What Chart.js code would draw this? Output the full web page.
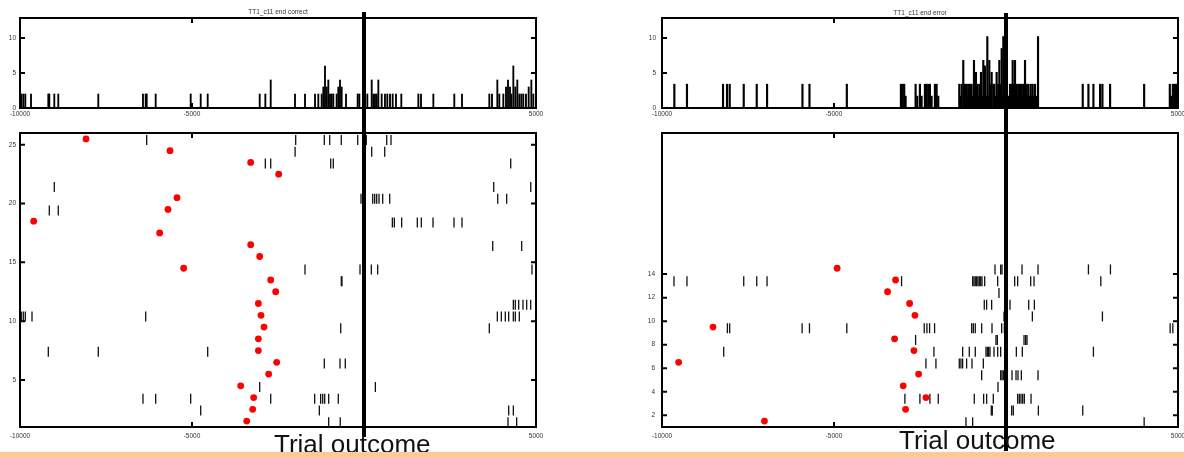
<!DOCTYPE html>
<html>
<head>
<meta charset="utf-8">
<script src="https://cdn.jsdelivr.net/npm/chart.js@4.4.1/dist/chart.umd.min.js"></script>
<style>
    html, body { margin: 0; padding: 0; background: #fff; overflow: hidden; }
    body { width: 1184px; height: 457px; position: relative; }
    canvas { position: absolute; }
    .outcome {
        position: absolute;
        font-family: "Liberation Sans", Arial, sans-serif;
        font-size: 26px;
        line-height: 26px;
        color: #111;
        white-space: nowrap;
    }
    #band { position: absolute; left: 0; top: 452px; width: 1184px; height: 5px; background: #fdca96; }
</style>
</head>
<body>
<canvas id="histCorrect" style="left:0;top:0" width="560" height="125"></canvas>
<canvas id="rasterCorrect" style="left:0;top:125px" width="560" height="332"></canvas>
<canvas id="histError" style="left:600px;top:0" width="600" height="125"></canvas>
<canvas id="rasterError" style="left:600px;top:125px" width="600" height="332"></canvas>
<div class="outcome" style="left:274px;top:431px">Trial outcome</div>
<div class="outcome" style="left:899px;top:427px">Trial outcome</div>
<div id="band"></div>
<script>
// axis ticks
const timeTicks = [-10000, -5000, 5000]
const rateTicks = [0, 5, 10]
const correctTrialTicks = [5, 10, 15, 20, 25]
const errorTrialTicks = [2, 4, 6, 8, 10, 12, 14]

// PSTH bars [time ms, rate]
const correctHist = [
    [-9962, 2], [-9904, 2], [-9846, 2], [-9680, 2], [-9177, 2], [-9148, 2], [-9003, 2], [-8887, 2],
    [-7724, 2], [-6425, 2], [-6346, 2], [-6317, 2], [-6056, 2], [-5038, 2], [-4747, 2], [-4544, 2],
    [-3032, 2], [-2868, 2], [-2712, 4], [-2006, 2], [-1715, 2], [-1424, 2], [-1328, 2], [-1230, 2],
    [-1182, 3], [-1134, 6], [-1085, 3], [-1037, 4], [-988, 2], [-940, 2], [-892, 2], [-795, 2],
    [-747, 3], [-698, 4], [-649, 3], [-523, 2], [-184, 2], [-136, 2], [29, 2], [97, 2], [224, 4],
    [272, 2], [320, 2], [369, 2], [417, 4], [514, 2], [610, 2], [678, 2], [756, 2], [834, 2], [930, 2],
    [1085, 2], [1580, 2], [1657, 2], [2016, 2], [2625, 2], [2849, 2], [3643, 2], [3721, 2], [3876, 4],
    [3934, 2], [4050, 2], [4128, 3], [4186, 4], [4244, 3], [4283, 2], [4341, 6], [4399, 3], [4457, 4],
    [4515, 2], [4573, 2], [4631, 2], [4709, 2], [4787, 3], [4864, 4], [4922, 2],
]
const errorHist = [
    [-9641, 3.4], [-9274, 3.4], [-8226, 3.4], [-8110, 3.4], [-8032, 3.4], [-7624, 3.4], [-7246, 3.4],
    [-6946, 3.4], [-5917, 3.4], [-5713, 3.4], [-4627, 3.4],
    [-3055, 3.4], [-3007, 3.4], [-2959, 3.4], [-2919, 1.7], [-2628, 3.4], [-2580, 1.7], [-2503, 3.4],
    [-2454, 1.7], [-2357, 3.4], [-2309, 3.4], [-2260, 3.4], [-2212, 3.4], [-2163, 1.7], [-2066, 3.4],
    [-2017, 3.4], [-1969, 1.7],
    [-1358, 3.4], [-1320, 1.7], [-1290, 3.4], [-1242, 6.8], [-1218, 1.7], [-1193, 3.4], [-1170, 1.7],
    [-1145, 3.4], [-1120, 1.7], [-1096, 3.4], [-1072, 1.7], [-1048, 3.4], [-1024, 1.7], [-999, 3.4],
    [-965, 1.7], [-931, 6.8], [-902, 1.7], [-873, 5.1], [-853, 1.7], [-834, 3.4], [-805, 1.7],
    [-776, 3.4], [-752, 1.7], [-728, 5.1], [-694, 1.7], [-660, 6.8], [-636, 1.7], [-611, 6],
    [-577, 1.7], [-543, 10.2], [-514, 1.7], [-485, 6.8], [-446, 3.4], [-417, 5.1], [-369, 3.4],
    [-339, 3.4], [-310, 1.7], [-272, 5.1], [-250, 1.7], [-223, 3.4], [-194, 6.8], [-155, 3.4],
    [-126, 8.5], [-100, 1.7], [-78, 10.2], [-39, 3.4], [-20, 1.7], [0, 3.4], [40, 1.7], [80, 1.7],
    [116, 3.4], [140, 1.7], [165, 3.4], [194, 6.8], [214, 1.7], [233, 3.4], [262, 6.8], [286, 1.7],
    [310, 3.4], [335, 1.7], [359, 3.4], [383, 1.7], [407, 3.4], [430, 1.7], [456, 3.4], [480, 1.7],
    [504, 3.4], [528, 1.7], [553, 6.8], [577, 1.7], [601, 3.4], [625, 1.7], [650, 3.4], [684, 1.7],
    [718, 3.4], [747, 1.7], [776, 3.4], [810, 1.7], [844, 3.4], [880, 1.7], [931, 10.2],
    [2231, 3.4], [2396, 3.4], [2541, 3.4], [2735, 3.4], [2803, 3.4], [3026, 3.4], [4016, 3.4],
    [4762, 3.4], [4800, 1.7], [4850, 3.4], [4900, 3.4], [4945, 3.4], [4985, 3.4],
]

// red markers, one per trial starting at trial 1 (null = not shown)
const correctMarkers = [
    -3410, -3236, -3207, -3584, -2771, -2538, -3071, -3071, -2907, -2994,
    -3071, -2567, -2712, -5242, -3032, -3294, -5940, -9602, -5698, -5436,
    null, -2480, -3294, -5640, -8081,
]
const errorMarkers = [
    -7022, -2919, -2328, -2988, -2540, -9516, -2677, -3239, -8518, -2648,
    -2802, -3443, -3210, -4909,
]

// raster spikes [trial, times]
const correctSpikes = [
    [1, [-1027, -690, 4186, 4438]],
    [2, [-4747, -1298, 4206, 4341]],
    [3, [-6425, -6056, -5038, -2712, -1434, -1260, -1201, -1143, -1027, -747]],
    [4, [-3032, 10, 330]],
    [6, [-1154, -698, -544]],
    [7, [-9177, -7724, -4544]],
    [9, [-677, 3643]],
    [10, [-9962, -9904, -9846, -9651, -6346, 3876, 3992, 4108, 4206, 4341, 4399, 4515]],
    [11, [4341, 4399, 4497, 4622, 4729, 4846]],
    [13, [-660, -640]],
    [14, [-1715, -116, 213, 398, 4884]],
    [16, [3742, 4584]],
    [18, [824, 882, 1095, 1550, 1666, 2006, 2617, 2849]],
    [19, [-9148, -8887]],
    [20, [-87, 253, 311, 369, 436, 543, 747, 3887, 4148]],
    [21, [-9003, 3771, 4847]],
    [23, [-2868, -2712, -968, -892, 4265]],
    [24, [-2003, 20, 224, 602]],
    [25, [-6317, -1986, -1154, -997, -660, -183, 67, 660, 785]],
]
const errorSpikes = [
    [1, [-1164, -970, 4016]],
    [2, [-427, -398, 165, 213, 941, 2231]],
    [3, [-2939, -2503, -2212, -1969, -922, -650, -563, -369, -20, 339, 388, 436, 485, 533, 728]],
    [4, [-233]],
    [5, [-707, -155, -116, -78, -39, 175, 291, 349, 446, 931]],
    [6, [-2328, -2037, -1358, -1310, -1261, -1145, -989, -659]],
    [7, [-8206, -2095, -1260, -1067, -893, -582, -543, -504, -466, -349, -242, -155, -20, 301, 475, 2541]],
    [8, [-2628, -291, -252, 524, 572, 611]],
    [9, [-8099, -8032, -5927, -5713, -4627, -2377, -2299, -2221, -2076, -998, -950, -893, -707, -407, -126, -48, 39, 4772, 4850]],
    [10, [-58, 766, 2803]],
    [11, [-631, -563, -417, 116, 660, 825]],
    [12, [-204, -20]],
    [13, [-9652, -9274, -7624, -7246, -6946, -3036, -969, -931, -893, -853, -815, -776, -736, -698, -620, -242, -20, 252, 339, 718, 815, 2756]],
    [14, [-320, -155, -116, 466, 931, 2396, 3036]],
]

const tickFont = { family: "'Liberation Sans', Arial, sans-serif", size: 6.5 }
const labelColor = "#333"

// frame with inward ticks (gnuplot look) plus the thick line at outcome time 0
const framePlugin = {
    id: "frame",
    afterDatasetsDraw(chart, args, opts) {
        const { ctx, chartArea: area } = chart
        const { x, y } = chart.scales
        ctx.save()
        ctx.strokeStyle = "#000"
        ctx.lineWidth = 2
        ctx.strokeRect(area.left, area.top, area.width, area.height)
        ctx.beginPath()
        y.ticks.forEach(t => {
            const py = y.getPixelForValue(t.value)
            ctx.moveTo(area.left, py)
            ctx.lineTo(area.left + 5, py)
            ctx.moveTo(area.right, py)
            ctx.lineTo(area.right - 5, py)
        })
        x.ticks.forEach(t => {
            const px = x.getPixelForValue(t.value)
            ctx.moveTo(px, area.top)
            ctx.lineTo(px, area.top + 5)
            ctx.moveTo(px, area.bottom)
            ctx.lineTo(px, area.bottom - 5)
        })
        ctx.stroke()

        const zx = x.getPixelForValue(0)
        ctx.lineWidth = 4
        ctx.beginPath()
        ctx.moveTo(zx, opts.from)
        ctx.lineTo(zx, opts.to)
        ctx.stroke()
        ctx.restore()
    },
}

function timeAxis(height, pad) {
    return {
        type: "linear",
        min: -10000,
        max: 5000,
        offset: false,
        afterBuildTicks: s => { s.ticks = timeTicks.map(v => ({ value: v })) },
        afterFit: s => { s.height = height },
        grid: { display: false, drawTicks: false },
        border: { display: false },
        ticks: { font: tickFont, color: labelColor, padding: pad, maxRotation: 0, autoSkip: false, callback: v => String(v) },
    }
}

function valueAxis(min, max, values, width, pad) {
    return {
        type: "linear",
        min,
        max,
        afterBuildTicks: s => { s.ticks = values.map(v => ({ value: v })) },
        afterFit: s => {
            s.width = width
            // labels never sit at the ends, so no extra room above or below
            s.paddingTop = 0
            s.paddingBottom = 0
        },
        grid: { display: false, drawTicks: false },
        border: { display: false },
        ticks: { font: tickFont, color: labelColor, padding: pad, autoSkip: false, callback: v => String(v) },
    }
}

function histChart(id, hist, title, titlePad, yWidth, yPad, rightPad, line, barWidth) {
    return new Chart(document.getElementById(id), {
        type: "bar",
        data: {
            datasets: [{
                data: hist.map(([t, r]) => ({ x: t, y: r })),
                backgroundColor: "#000",
                borderWidth: 0,
                barThickness: barWidth,
                grouped: false,
            }],
        },
        options: {
            responsive: false,
            animation: false,
            events: [],
            layout: { padding: { top: 0, right: rightPad, bottom: 0, left: 0 } },
            plugins: {
                legend: { display: false },
                tooltip: { enabled: false },
                title: {
                    display: true,
                    text: title,
                    fullSize: false,
                    color: labelColor,
                    font: { ...tickFont, weight: "normal" },
                    padding: titlePad,
                },
                frame: line,
            },
            scales: {
                x: timeAxis(17, 2),
                y: valueAxis(0, 12.85, rateTicks, yWidth, yPad),
            },
        },
        plugins: [framePlugin],
    })
}

function rasterChart(id, spikes, markers, trialTicks, yWidth, yPad, rightPad, line) {
    const spikePoints = spikes.flatMap(([trial, times]) => times.map(t => ({ x: t, y: trial + 0.4 })))
    const markerPoints = markers
        .map((t, i) => (t === null ? null : { x: t, y: i + 1.5 }))
        .filter(p => p !== null)
    return new Chart(document.getElementById(id), {
        type: "scatter",
        data: {
            datasets: [
                {
                    data: markerPoints,
                    pointStyle: "circle",
                    pointRadius: 3.4,
                    pointBackgroundColor: "#ff0000",
                    pointBorderWidth: 0,
                },
                {
                    data: spikePoints,
                    pointStyle: "line",
                    pointRotation: 90,
                    pointRadius: 5,
                    pointBorderColor: "#111",
                    pointBorderWidth: 1.3,
                },
            ],
        },
        options: {
            responsive: false,
            animation: false,
            events: [],
            layout: { padding: { top: 8, right: rightPad, bottom: 0, left: 0 } },
            plugins: {
                legend: { display: false },
                tooltip: { enabled: false },
                frame: line,
            },
            scales: {
                x: timeAxis(30, 5),
                y: valueAxis(1, 26, trialTicks, yWidth, yPad),
            },
        },
        plugins: [framePlugin],
    })
}

histChart("histCorrect", correctHist, "TT1_c11 end correct", { top: 8, bottom: 2.2 }, 20, 4, 24, { from: 12, to: 125 }, 1.2)
histChart("histError", errorHist, "TT1_c11 end error", { top: 9, bottom: 1.2 }, 62, 6, 22, { from: 13, to: 125 }, 1.5)
rasterChart("rasterCorrect", correctSpikes, correctMarkers, correctTrialTicks, 20, 4, 24, { from: 0, to: 312 })
rasterChart("rasterError", errorSpikes, errorMarkers, errorTrialTicks, 62, 7, 22, { from: 0, to: 326 })
</script>
</body>
</html>
